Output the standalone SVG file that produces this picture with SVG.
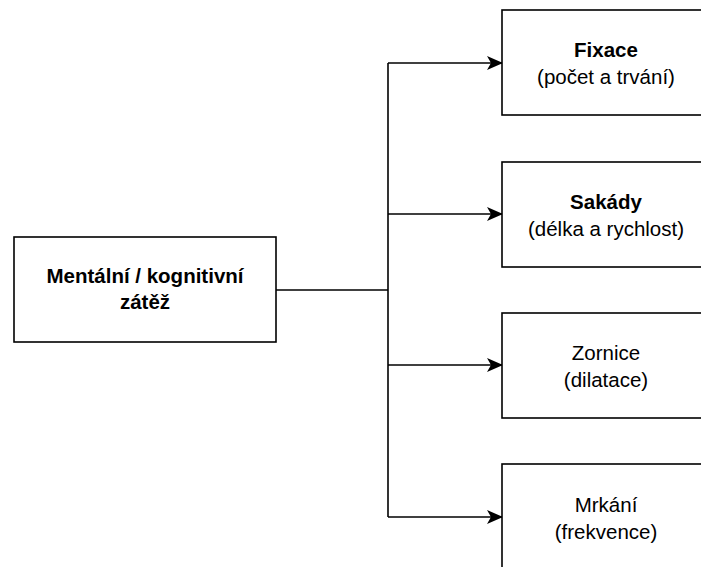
<svg xmlns="http://www.w3.org/2000/svg" width="701" height="567" viewBox="0 0 701 567">
<defs>
<style>
.box{fill:#fff;stroke:#000;stroke-width:1.6}
.t{font-family:"Liberation Sans",Arial,sans-serif;font-size:20.5px;fill:#000;text-anchor:middle}
.b{font-weight:bold}
.c{fill:none;stroke:#000;stroke-width:1.6}
</style>
<marker id="ah" viewBox="0 0 16 14" refX="15" refY="7" markerWidth="16" markerHeight="14" markerUnits="userSpaceOnUse" orient="auto">
<path d="M0,0 L16,7 L0,14 L4,7 Z" fill="#000"/>
</marker>
</defs>
<rect width="701" height="567" fill="#fff"/>
<g id="connectors">
<path class="c" d="M276,290 H388"/>
<path class="c" d="M388,63 V517"/>
<path class="c" d="M388,63 H502" marker-end="url(#ah)"/>
<path class="c" d="M388,214 H502" marker-end="url(#ah)"/>
<path class="c" d="M388,365 H502" marker-end="url(#ah)"/>
<path class="c" d="M388,517 H502" marker-end="url(#ah)"/>
</g>
<g id="zatez">
<rect class="box" x="14" y="237" width="262" height="105"/>
<text class="t b" x="145" y="283">Mentální / kognitivní</text>
<text class="t b" x="145" y="308.5">zátěž</text>
</g>
<g id="fixace">
<rect class="box" x="502" y="10" width="208" height="105"/>
<text class="t b" x="606" y="57">Fixace</text>
<text class="t" x="606" y="83.5">(počet a trvání)</text>
</g>
<g id="sakady">
<rect class="box" x="502" y="162" width="208" height="105"/>
<text class="t b" x="606" y="209">Sakády</text>
<text class="t" x="606" y="235.5">(délka a rychlost)</text>
</g>
<g id="zornice">
<rect class="box" x="502" y="313" width="208" height="105"/>
<text class="t" x="606" y="360">Zornice</text>
<text class="t" x="606" y="386.5">(dilatace)</text>
</g>
<g id="mrkani">
<rect class="box" x="502" y="464" width="208" height="110"/>
<text class="t" x="606" y="512">Mrkání</text>
<text class="t" x="606" y="538.5">(frekvence)</text>
</g>
</svg>
